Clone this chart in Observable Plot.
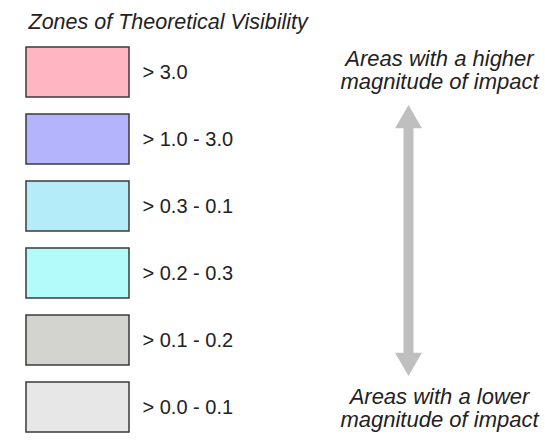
<!DOCTYPE html>
<html>
<head>
<meta charset="utf-8">
<script src="https://cdn.jsdelivr.net/npm/d3@7"></script>
<script src="https://cdn.jsdelivr.net/npm/@observablehq/plot@0.6"></script>
<style>
  html, body { margin: 0; padding: 0; background: #fff; }
  svg { display: block; }
</style>
</head>
<body>
<div id="chart"></div>
<script>
// Data
const title = "Zones of Theoretical Visibility";
const classes = ["> 3.0", "> 1.0 - 3.0", "> 0.3 - 0.1", "> 0.2 - 0.3", "> 0.1 - 0.2", "> 0.0 - 0.1"];
const colors = ["#ffb5c2", "#b4b4fd", "#b5ecfa", "#b3fafa", "#d3d3d0", "#e7e7e7"];
const topNote = "Areas with a higher\nmagnitude of impact";
const bottomNote = "Areas with a lower\nmagnitude of impact";

const rows = classes.map((c, i) => ({cls: c, color: colors[i]}));
const font = "'Liberation Sans', Arial, sans-serif";
const arrowColor = "#bfbfbf";

const chart = Plot.plot({
  width: 545,
  height: 440,
  margin: 0,
  style: {fontFamily: font, background: "#fff"},
  x: {domain: [0, 545], range: [0, 545], axis: null},
  y: {type: "band", domain: classes, range: [45, 433], paddingInner: 0.26, paddingOuter: 0, axis: null},
  color: {type: "identity"},
  marks: [
    Plot.text([title], {frameAnchor: "top-left", dx: 28, dy: 13, text: d => d, textAnchor: "start", lineAnchor: "top",
      fontSize: 21.5, fontStyle: "italic", fill: "#222"}),
    Plot.barX(rows, {x1: 26, x2: 129, y: "cls", fill: "color", stroke: "#3a3a3a", strokeWidth: 1.5}),
    Plot.text(rows, {x: 142, y: "cls", text: "cls", textAnchor: "start", fontSize: 20, fill: "#222"}),
    Plot.text([topNote], {x: 439, y: () => classes[0], text: d => d, textAnchor: "middle", fontSize: 22,
      fontStyle: "italic", fill: "#222", lineHeight: 1.05, dy: -2}),
    Plot.text([bottomNote], {x: 439, y: () => classes[classes.length - 1], text: d => d, textAnchor: "middle", fontSize: 22,
      fontStyle: "italic", fill: "#222", lineHeight: 1.05, dy: 1}),
    Plot.ruleX([408], {x: d => d, y1: () => classes[0], y2: () => classes[classes.length - 1],
      insetTop: 70, insetBottom: 70, stroke: arrowColor, strokeWidth: 10}),
    Plot.dot([0], {x: 408, y: () => classes[0], symbol: "triangle", r: 10, fill: arrowColor, stroke: "none", dy: 48}),
    Plot.dot([0], {x: 408, y: () => classes[classes.length - 1], symbol: "triangle", r: 10, fill: arrowColor, stroke: "none", dy: -47, rotate: 180})
  ]
});
document.getElementById("chart").append(chart);
</script>
</body>
</html>
